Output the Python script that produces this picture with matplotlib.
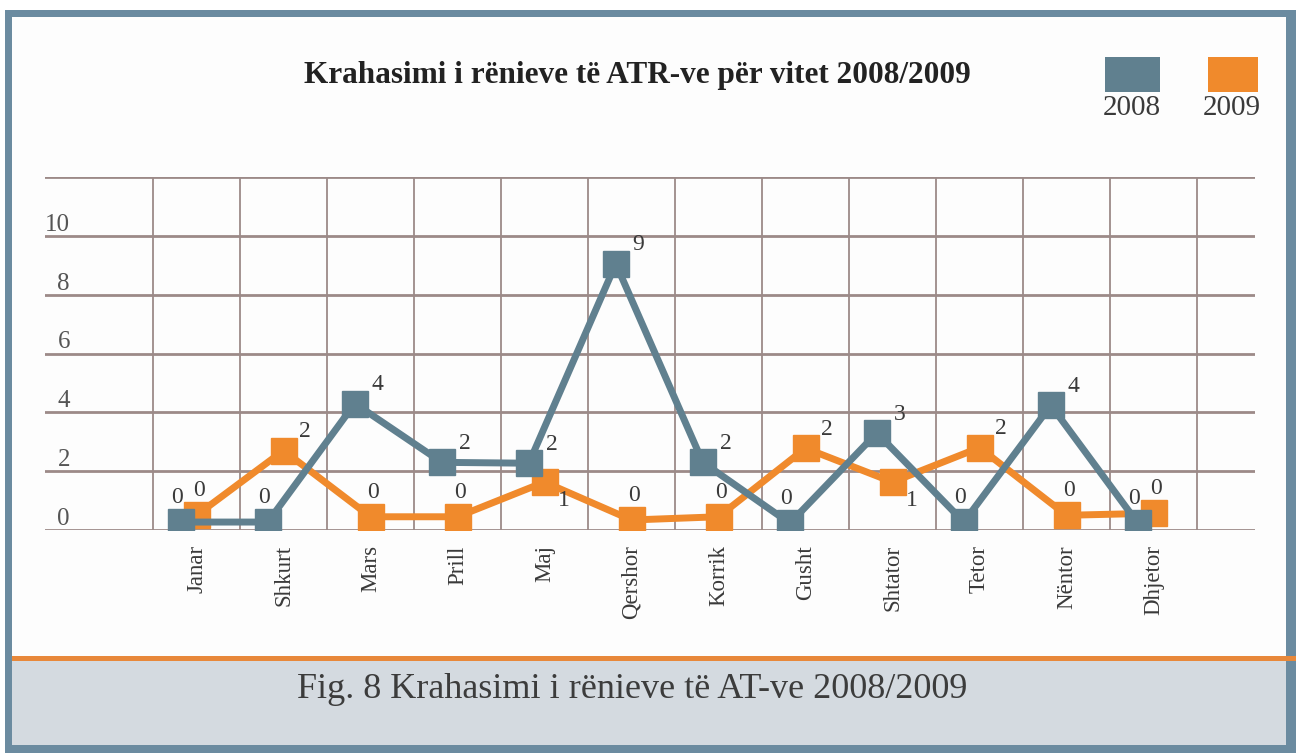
import numpy as np
import matplotlib.pyplot as plt
from matplotlib.patches import Rectangle

plt.rcParams['font.family'] = ['Liberation Serif', 'DejaVu Serif']

months = ["Janar", "Shkurt", "Mars", "Prill", "Maj", "Qershor",
          "Korrik", "Gusht", "Shtator", "Tetor", "Nëntor", "Dhjetor"]
# heights as they are drawn in the picture
values_2008 = [0.27, 0.27, 4.3, 2.3, 2.27, 9.05, 2.3, 0.23, 3.3, 0.27, 4.24, 0.23]
values_2009 = [0.5, 2.7, 0.45, 0.45, 1.63, 0.34, 0.45, 2.78, 1.63, 2.8, 0.5, 0.57]
# numbers printed next to the points
labels_2008 = ["0", "0", "4", "2", "2", "9", "2", "0", "3", "0", "4", "0"]
labels_2009 = ["0", "2", "0", "0", "1", "0", "0", "2", "1", "2", "0", "0"]
ytick_labels = ["0", "2", "4", "6", "8", "10", ""]

GRAY = '#60808f'
ORANGE = '#f08a2c'
GRID = '#9c8a88'
TXT = '#3a3a3a'

W, H = 1296, 753
fig = plt.figure(figsize=(W / 100, H / 100), dpi=100)


def box(x0, y0, x1, y1, color, z=0):
    fig.add_artist(Rectangle((x0 / W, 1 - y1 / H), (x1 - x0) / W, (y1 - y0) / H,
                             transform=fig.transFigure, facecolor=color,
                             edgecolor='none', zorder=z))


# page frame
box(5, 10, W, H, '#6b8ba0')
box(12, 17, 1286, 658, '#fdfdfd')
box(12, 656, W, 661, '#e8883a')
box(12, 661, 1286, 745, '#d4dae0')

ax = fig.add_axes([45 / W, 1 - 530 / H, (1255 - 45) / W, (530 - 177) / H])
ax.set_facecolor('none')
x = np.arange(len(months))
ax.set_xlim((45 - 196.5) / 87, (1255 - 196.5) / 87)
ax.set_ylim(0, 12)

ax.set_yticks(np.arange(0, 13, 2), labels=ytick_labels)
ax.set_xticks(x, labels=months, rotation=90)
ax.set_xticks(np.arange(-0.5, len(months)), minor=True)
ax.yaxis.grid(True, color=GRID, lw=2)
ax.xaxis.grid(True, which='minor', color=GRID, lw=1.3)
ax.tick_params(axis='both', which='both', length=0)
ax.tick_params(axis='y', pad=-18, labelsize=18, labelcolor='#555555')
ax.tick_params(axis='x', pad=11, labelsize=16.5, labelcolor=TXT)
for lab in ax.get_yticklabels():
    lab.set_va('bottom')
for s in ax.spines.values():
    s.set_visible(False)
ax.set_axisbelow(True)

ax.plot(x, values_2009, color=ORANGE, lw=5, marker='s', ms=19, zorder=3)
ax.plot(x - 0.18, values_2008, color=GRAY, lw=5, marker='s', ms=19, zorder=4)

for i in range(len(months)):
    if labels_2008[i] == "0":
        off, ha, va = (-3, 10), 'center', 'bottom'
    else:
        off, ha, va = (12, 6), 'left', 'bottom'
    ax.annotate(labels_2008[i], (x[i] - 0.18, values_2008[i]), xytext=off,
                textcoords='offset points', ha=ha, va=va, fontsize=17, color=TXT, zorder=5)

    if labels_2009[i] == "0":
        off, ha, va = (2, 10), 'center', 'bottom'
    elif labels_2009[i] == "1":
        off, ha, va = (10, -6), 'left', 'top'
    else:
        off, ha, va = (11, 6), 'left', 'bottom'
    ax.annotate(labels_2009[i], (x[i], values_2009[i]), xytext=off,
                textcoords='offset points', ha=ha, va=va, fontsize=17, color=TXT, zorder=5)

fig.text(637 / W, 1 - 75 / H, "Krahasimi i rënieve të ATR-ve për vitet 2008/2009",
         ha='center', va='center', fontsize=22.5, weight='bold', color='#222222')

# legend
box(1105, 57, 1160, 92, GRAY, 2)
box(1208, 57, 1258, 92, ORANGE, 2)
fig.text(1132 / W, 1 - 108 / H, "2008", ha='center', va='center', fontsize=21, color=TXT)
fig.text(1232 / W, 1 - 108 / H, "2009", ha='center', va='center', fontsize=21, color=TXT)

fig.text(632 / W, 1 - 690 / H, "Fig. 8 Krahasimi i rënieve të AT-ve 2008/2009",
         ha='center', va='center', fontsize=26, color='#3c3c3c')

fig.savefig('out.png', dpi=100)
